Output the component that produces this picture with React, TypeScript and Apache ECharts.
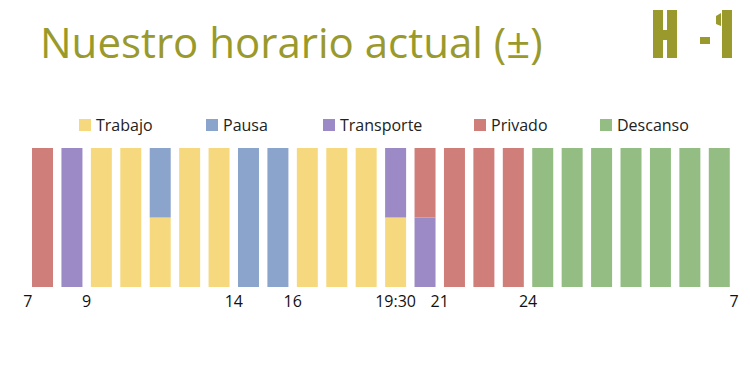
import React, { useEffect, useRef } from "react";
import * as echarts from "echarts";

const hours = ["7", "8", "9", "10", "11", "12", "13", "14", "15", "16", "17", "18", "19", "20", "21", "22", "23", "0", "1", "2", "3", "4", "5", "6"];
const trabajo = [0, 0, 1, 1, 0.5, 1, 1, 0, 0, 1, 1, 1, 0.5, 0, 0, 0, 0, 0, 0, 0, 0, 0, 0, 0];
const pausa = [0, 0, 0, 0, 0.5, 0, 0, 1, 1, 0, 0, 0, 0, 0, 0, 0, 0, 0, 0, 0, 0, 0, 0, 0];
const transporte = [0, 1, 0, 0, 0, 0, 0, 0, 0, 0, 0, 0, 0.5, 0.5, 0, 0, 0, 0, 0, 0, 0, 0, 0, 0];
const privado = [1, 0, 0, 0, 0, 0, 0, 0, 0, 0, 0, 0, 0, 0.5, 1, 1, 1, 0, 0, 0, 0, 0, 0, 0];
const descanso = [0, 0, 0, 0, 0, 0, 0, 0, 0, 0, 0, 0, 0, 0, 0, 0, 0, 1, 1, 1, 1, 1, 1, 1];

const seriesNames = ["Trabajo", "Pausa", "Transporte", "Privado", "Descanso"];
const seriesValues = [trabajo, pausa, transporte, privado, descanso];
const seriesColors = ["#F6D97F", "#8BA4CB", "#9C8AC6", "#CF7E7A", "#93BD83"];
const legendLefts = [79, 206, 323, 474, 600];

const tickPositions = [0, 2, 7, 9, 12.5, 14, 17, 24];
const tickLabels = ["7", "9", "14", "16", "19:30", "21", "24", "7"];

const titleText = "Nuestro horario actual (±)";
const olive = "#9A9A2C";

export default function App() {
  const ref = useRef<HTMLDivElement>(null);
  useEffect(() => {
    if (!ref.current) return;
    const chart = echarts.init(ref.current, null, { renderer: "svg" });
    const labelMap: Record<string, string> = {};
    tickPositions.forEach((p, i) => (labelMap[String(p)] = tickLabels[i]));
    chart.setOption({
      animation: false,
      backgroundColor: "#ffffff",
      title: {
        text: titleText,
        left: 35,
        top: 15,
        textStyle: { fontFamily: "Open Sans", fontSize: 42, fontWeight: "normal", color: olive },
      },
      legend: seriesNames.map((n, i) => ({
        data: [n],
        left: legendLefts[i],
        top: 117,
        itemWidth: 12,
        itemHeight: 12,
        icon: "rect",
        itemGap: 0,
        padding: 0,
        selectedMode: false,
        textStyle: { fontFamily: "Open Sans", fontSize: 16, color: "#222" },
      })),
      grid: { left: 27.8, right: 16, top: 148, bottom: 103, containLabel: false },
      xAxis: [
        {
          type: "category",
          data: hours,
          show: false,
          boundaryGap: true,
        },
        {
          type: "value",
          min: 0,
          max: 24,
          interval: 0.5,
          position: "bottom",
          axisLine: { show: false },
          axisTick: { show: false },
          splitLine: { show: false },
          axisLabel: {
            show: true,
            showMinLabel: true,
            showMaxLabel: true,
            margin: 6,
            fontFamily: "Open Sans",
            fontSize: 16,
            color: "#111",
            formatter: (v: number) => labelMap[String(v)] ?? "",
          },
        },
      ],
      yAxis: { type: "value", min: 0, max: 1, show: false },
      series: seriesNames.map((n, i) => ({
        name: n,
        type: "bar",
        stack: "h",
        xAxisIndex: 0,
        barWidth: 21,
        data: seriesValues[i],
        itemStyle: { color: seriesColors[i] },
      })),
      graphic: [
        { type: "rect", shape: { x: 653, y: 10, width: 10, height: 48 }, style: { fill: olive } },
        { type: "rect", shape: { x: 667, y: 10, width: 10, height: 48 }, style: { fill: olive } },
        { type: "rect", shape: { x: 662, y: 30, width: 6, height: 10 }, style: { fill: olive } },
        { type: "rect", shape: { x: 700, y: 37, width: 10, height: 7 }, style: { fill: olive } },
        { type: "rect", shape: { x: 722, y: 10, width: 10, height: 48 }, style: { fill: olive } },
        { type: "polygon", shape: { points: [[716, 16], [721, 13], [721, 26], [716, 24]] }, style: { fill: olive } },
      ],
    });
    return () => chart.dispose();
  }, []);
  return <div ref={ref} style={{ position: "absolute", left: 0, top: 0, width: 750, height: 390 }} />;
}
